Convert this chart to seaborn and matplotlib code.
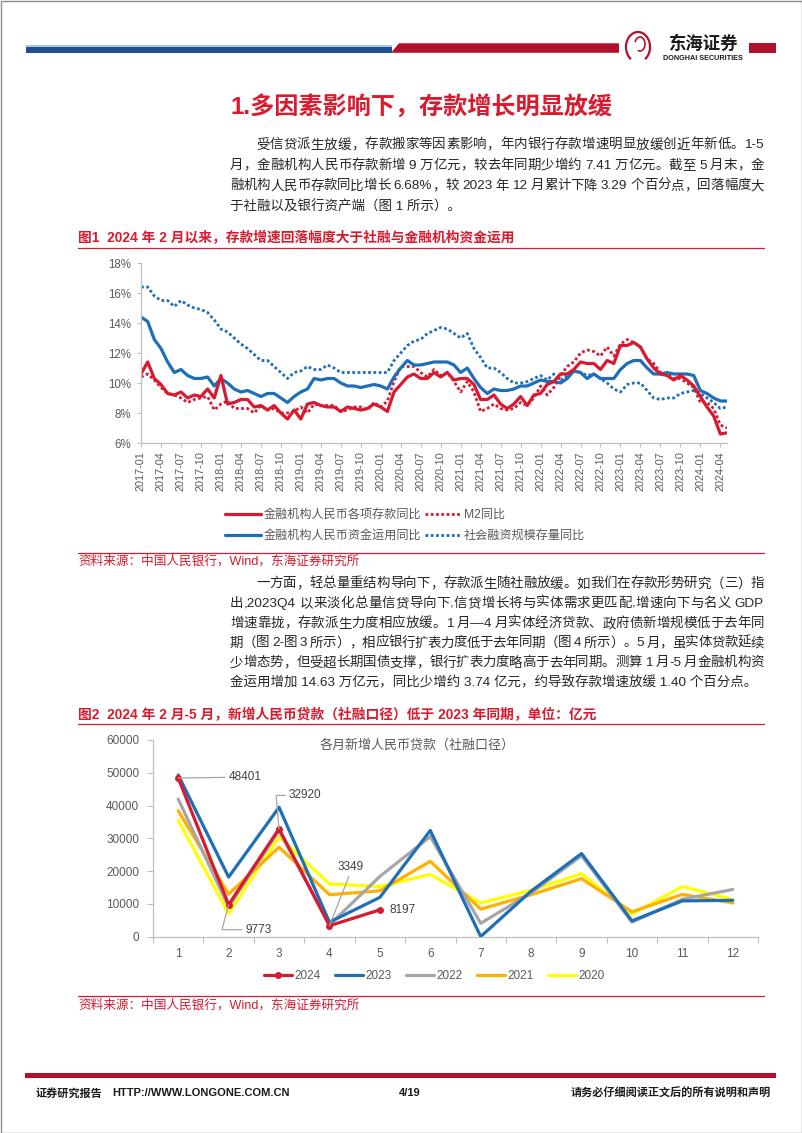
import re
import numpy as np
import pandas as pd
import matplotlib
matplotlib.use("Agg")
import matplotlib.pyplot as plt
import matplotlib.patches as mpatches
from matplotlib.font_manager import FontProperties
import seaborn as sns

sns.set_theme(style="white")
FAMILY = ["Liberation Sans", "Noto Sans CJK SC"]
plt.rcParams["font.family"] = FAMILY
plt.rcParams["axes.unicode_minus"] = False

# ---------------- Data: figure 1 (monthly yoy, %, 2017-01 .. 2024-05) ----------------
month_labels = [str(p) for p in pd.period_range("2017-01", "2024-05", freq="M")]

deposit_yoy = [
    10.6, 11.4, 10.3, 9.9, 9.3, 9.2, 9.4, 9.0, 9.2, 9.1, 9.6, 9.0,
    10.5, 8.6, 8.7, 8.9, 8.9, 8.4, 8.5, 8.2, 8.5, 8.0, 7.6, 8.2,
    7.6, 8.6, 8.7, 8.5, 8.4, 8.4, 8.1, 8.4, 8.3, 8.2, 8.3, 8.6,
    8.4, 8.1, 9.4, 9.9, 10.4, 10.6, 10.3, 10.3, 10.7, 10.4, 10.7, 10.2,
    10.3, 10.3, 9.9, 8.9, 8.9, 9.2, 8.6, 8.3, 8.6, 9.1, 8.5, 9.2,
    9.3, 9.9, 10.1, 10.6, 10.6, 10.9, 11.4, 11.3, 11.3, 10.9, 11.5, 11.3,
    12.5, 12.5, 12.7, 12.4, 11.6, 11.0, 10.6, 10.5, 10.2, 10.5, 10.2, 9.8,
    9.1, 8.4, 7.8, 6.6, 6.68]
m2_yoy = [
    10.4, 10.6, 10.2, 9.7, 9.3, 9.2, 9.0, 8.7, 8.9, 9.0, 9.1, 8.2,
    8.6, 8.8, 8.3, 8.3, 8.3, 8.0, 8.5, 8.2, 8.3, 8.0, 8.0, 8.1,
    8.4, 8.0, 8.6, 8.5, 8.5, 8.5, 8.1, 8.2, 8.4, 8.4, 8.2, 8.7,
    8.4, 8.8, 10.1, 11.1, 11.1, 11.1, 10.7, 10.4, 10.9, 10.5, 10.7, 10.1,
    9.4, 10.1, 9.4, 8.1, 8.3, 8.6, 8.3, 8.2, 8.3, 8.7, 8.5, 9.0,
    9.8, 9.2, 9.7, 10.5, 11.1, 11.4, 12.0, 12.2, 12.1, 11.8, 12.4, 11.8,
    12.6, 12.9, 12.7, 12.4, 11.6, 11.3, 10.7, 10.6, 10.3, 10.3, 10.0, 9.7,
    8.7, 8.7, 8.3, 7.2, 7.0]
funds_use_yoy = [
    14.4, 14.1, 12.9, 12.3, 11.4, 10.7, 10.9, 10.5, 10.3, 10.3, 10.4, 9.8,
    10.3, 10.0, 9.6, 9.4, 9.5, 9.3, 9.1, 9.3, 9.3, 9.0, 8.7, 9.1,
    9.4, 9.6, 10.3, 10.2, 10.3, 10.3, 10.0, 9.8, 9.8, 9.7, 9.8, 9.9,
    9.8, 9.6, 10.4, 11.0, 11.5, 11.2, 11.2, 11.3, 11.4, 11.4, 11.4, 11.2,
    10.7, 11.0, 10.3, 9.7, 9.3, 9.6, 9.5, 9.5, 9.6, 9.8, 9.8, 10.0,
    10.2, 10.1, 10.1, 10.0, 10.3, 10.8, 10.7, 10.3, 10.6, 10.3, 10.3, 10.3,
    10.9, 11.3, 11.5, 11.5, 11.0, 10.6, 10.6, 10.7, 10.6, 10.6, 10.6, 10.5,
    9.5, 9.3, 9.0, 8.8, 8.8]
tsf_yoy = [
    16.4, 16.4, 15.8, 15.5, 15.5, 15.1, 15.5, 15.2, 15.0, 14.9, 14.7, 14.2,
    13.6, 13.4, 13.0, 12.6, 12.3, 11.9, 11.5, 11.5, 11.1, 10.7, 10.3, 10.7,
    10.8, 11.1, 10.9, 10.9, 11.2, 11.0, 10.7, 10.7, 10.7, 10.7, 10.7, 10.7,
    10.7, 10.7, 11.5, 12.0, 12.5, 12.8, 12.9, 13.3, 13.5, 13.7, 13.6, 13.3,
    13.0, 13.3, 12.3, 11.7, 11.0, 11.0, 10.7, 10.3, 10.0, 10.0, 10.1, 10.3,
    10.5, 10.2, 10.6, 10.2, 10.5, 10.8, 10.7, 10.5, 10.6, 10.3, 10.0, 9.6,
    9.4, 9.9, 10.0, 10.0, 9.5, 9.0, 8.9, 9.0, 9.0, 9.3, 9.4, 9.5,
    9.3, 9.0, 8.7, 8.3, 8.4]
fig1_names = ["金融机构人民币各项存款同比", "M2同比",
              "金融机构人民币资金运用同比", "社会融资规模存量同比"]

# ---------------- Data: figure 2 (new RMB loans, 100m yuan) ----------------
months = list(range(1, 13))
loans_2024 = [48401, 9773, 32920, 3349, 8197]
loans_2023 = [49314, 18184, 39469, 4431, 11997, 32413, 36, 13909, 25366, 4837, 10926, 11098]
loans_2022 = [41988, 9084, 32291, 3616, 18393, 30540, 4088, 13344, 24700, 4431, 11444, 14401]
loans_2021 = [38400, 13000, 27300, 12800, 14000, 23000, 8400, 12800, 17700, 7600, 12900, 10300]
loans_2020 = [35500, 7100, 30400, 16100, 15300, 19000, 10300, 14200, 19200, 6900, 15300, 11300]
loan_years = ["2024", "2023", "2022", "2021", "2020"]

# ---------------- Colours ----------------
RED = "#D71A32"
BLUE = "#1E6EB8"
GRAY_TXT = "#595959"
AXIS = "#BFBFBF"
TITLE_RED = "#DA1A2E"
BAR_RED = "#B3102B"
BAR_BLUE = "#1E4F91"
BODY = "#262626"

W, H = 802, 1133
fig = plt.figure(figsize=(W / 100, H / 100), dpi=100)
fig.patch.set_facecolor("white")

# background axes in pixel coordinates (y downwards)
bg = fig.add_axes([0, 0, 1, 1], zorder=0)
bg.set_xlim(0, W)
bg.set_ylim(H, 0)
bg.axis("off")


def fp(size, weight="normal"):
    return FontProperties(family=FAMILY, size=size, weight=weight)


def put_line(s, x0, y, size, color=BODY, x1=None, weight="normal"):
    prop = fp(size, weight)
    if x1 is None:
        bg.text(x0, y, s, fontproperties=prop, color=color, ha="left", va="center")
        return
    r = fig.canvas.get_renderer()
    toks = re.findall(r"[A-Za-z0-9.%\-:/,]+| +|.", s)
    widths = []
    for t in toks:
        if t.strip() == "":
            widths.append(len(t) * 0.26 * size * 100 / 72)
        else:
            widths.append(r.get_text_width_height_descent(t, prop, ismath=False)[0])
    gap = (x1 - x0 - sum(widths)) / max(len(toks) - 1, 1)
    x = x0
    for t, w in zip(toks, widths):
        if t.strip():
            bg.text(x, y, t, fontproperties=prop, color=color, ha="left", va="center")
        x += w + gap


# ---------------- Page frame, header, footer ----------------
bg.add_patch(mpatches.Rectangle((0.5, 0.5), W - 1, H - 1, fill=False, ec="#8C8C8C", lw=1))
bg.add_patch(mpatches.Rectangle((25.5, 45.3), 366, 1.5, color="#A9C8EA", lw=0))
bg.add_patch(mpatches.Rectangle((25.5, 46.8), 366, 6, color=BAR_BLUE, lw=0))
bg.add_patch(mpatches.Polygon([(391, 52.8), (399, 43.3), (619, 43.3), (619, 52.8)],
                              closed=True, color=BAR_RED, lw=0))
bg.add_patch(mpatches.Rectangle((749, 43.3), 27, 9.5, color=BAR_RED, lw=0))
bg.add_patch(mpatches.Arc((638, 47), 24, 30, theta1=120, theta2=420, color=BAR_RED, lw=1.6))
bg.add_patch(mpatches.Arc((640, 44), 10, 14, theta1=200, theta2=470, color=BAR_RED, lw=1.2))
bg.text(704, 43.5, "东海证券", fontproperties=fp(12.5, "bold"), color="#1A1A1A",
        ha="center", va="center")
bg.text(703, 58, "DONGHAI SECURITIES", fontproperties=fp(5.2, "bold"), color="#1A1A1A",
        ha="center", va="center")

bg.add_patch(mpatches.Rectangle((25, 1073), 751, 4.5, color=BAR_RED, lw=0))
put_line("证券研究报告", 36, 1093, 8, "#1A1A1A", weight="bold")
put_line("HTTP://WWW.LONGONE.COM.CN", 112, 1093, 8, "#1A1A1A", weight="bold")
bg.text(410, 1093, "4/19", fontproperties=fp(8, "bold"), color="#1A1A1A", ha="center", va="center")
bg.text(771, 1093, "请务必仔细阅读正文后的所有说明和声明", fontproperties=fp(8, "bold"),
        color="#1A1A1A", ha="right", va="center")

# ---------------- Title & paragraphs ----------------
bg.text(421, 107, "1.多因素影响下，存款增长明显放缓", fontproperties=fp(17.4, "bold"),
        color=TITLE_RED, ha="center", va="center")

BS = 9.7
para1 = [
    "受信贷派生放缓，存款搬家等因素影响，年内银行存款增速明显放缓创近年新低。1-5",
    "月，金融机构人民币存款新增 9 万亿元，较去年同期少增约 7.41 万亿元。截至 5 月末，金",
    "融机构人民币存款同比增长 6.68%，较 2023 年 12 月累计下降 3.29 个百分点，回落幅度大",
    "于社融以及银行资产端（图 1 所示）。",
]
ys1 = [145, 165.7, 186.3, 207]
for k, (s, y) in enumerate(zip(para1, ys1)):
    x0 = 256 if k == 0 else 230
    put_line(s, x0, y, BS, x1=(764 if k < 3 else None))

para2 = [
    "一方面，轻总量重结构导向下，存款派生随社融放缓。如我们在存款形势研究（三）指",
    "出,2023Q4 以来淡化总量信贷导向下,信贷增长将与实体需求更匹配,增速向下与名义 GDP",
    "增速靠拢，存款派生力度相应放缓。1 月—4 月实体经济贷款、政府债新增规模低于去年同",
    "期（图 2-图 3 所示），相应银行扩表力度低于去年同期（图 4 所示）。5 月，虽实体贷款延续",
    "少增态势，但受超长期国债支撑，银行扩表力度略高于去年同期。测算 1 月-5 月金融机构资",
    "金运用增加 14.63 万亿元，同比少增约 3.74 亿元，约导致存款增速放缓 1.40 个百分点。",
]
ys2 = [584, 603.8, 623.6, 643.4, 663.2, 683]
for k, (s, y) in enumerate(zip(para2, ys2)):
    x0 = 256 if k == 0 else 230
    put_line(s, x0, y, BS, x1=(764 if k < 5 else None))

# captions, rules, sources
put_line("图1  2024 年 2 月以来，存款增速回落幅度大于社融与金融机构资金运用", 78, 238, 9.9,
         TITLE_RED, weight="bold")
put_line("图2  2024 年 2 月-5 月，新增人民币贷款（社融口径）低于 2023 年同期，单位：亿元", 78, 715,
         9.9, TITLE_RED, weight="bold")
for yy in (247.5, 552.7, 724, 996):
    bg.plot([78, 764], [yy, yy], color=TITLE_RED, lw=0.9)
for yy in (561.7, 1005):
    put_line("资料来源：中国人民银行，Wind，东海证券研究所", 78, yy, 9.1, TITLE_RED)

# ---------------- Figure 1 chart ----------------
ax1 = fig.add_axes([141 / W, 1 - 443 / H, 586 / W, 180 / H], zorder=2)
ax1.patch.set_alpha(0)
idx = np.arange(len(month_labels))
dot = (0, (1, 0.9))
sns.lineplot(x=idx, y=tsf_yoy, ax=ax1, color=BLUE, lw=2.0, linestyle=dot, label=fig1_names[3])
sns.lineplot(x=idx, y=m2_yoy, ax=ax1, color=RED, lw=2.0, linestyle=dot, label=fig1_names[1])
sns.lineplot(x=idx, y=funds_use_yoy, ax=ax1, color=BLUE, lw=2.3, label=fig1_names[2])
sns.lineplot(x=idx, y=deposit_yoy, ax=ax1, color=RED, lw=2.3, label=fig1_names[0])

ax1.set_xlim(0, len(month_labels) - 1)
ax1.set_ylim(6, 18)
ax1.set_yticks(range(6, 19, 2))
ax1.set_yticklabels([f"{v}%" for v in range(6, 19, 2)])
ax1.set_xticks(idx[::3])
ax1.set_xticklabels(month_labels[::3], rotation=90)
for sp in ("top", "right"):
    ax1.spines[sp].set_visible(False)
for sp in ("left", "bottom"):
    ax1.spines[sp].set_color(AXIS)
    ax1.spines[sp].set_linewidth(0.9)
ax1.tick_params(axis="both", colors=AXIS, labelcolor=GRAY_TXT, length=3, width=0.8,
                direction="out")
ax1.tick_params(axis="y", labelsize=8.3, pad=4, left=True)
ax1.tick_params(axis="x", labelsize=7.8, pad=3, bottom=True)
ax1.set_xlabel("")
ax1.set_ylabel("")
ax1.grid(False)

h, l = ax1.get_legend_handles_labels()
hd = dict(zip(l, h))
order = [fig1_names[0], fig1_names[2], fig1_names[1], fig1_names[3]]
ax1.legend([hd[n] for n in order], order, loc="center", ncol=2,
           bbox_to_anchor=(405 / W, 1 - 525.5 / H), bbox_transform=fig.transFigure,
           frameon=False, prop=fp(8.7), labelcolor=GRAY_TXT, handlelength=3.0,
           handletextpad=0.2, columnspacing=0.3, labelspacing=0.75, borderpad=0)

# ---------------- Figure 2 chart ----------------
ax2 = fig.add_axes([153 / W, 1 - 936.7 / H, 605 / W, 196.7 / H], zorder=2)
ax2.patch.set_alpha(0)
series2 = {
    "2020": (loans_2020, "#FFFF00"),
    "2021": (loans_2021, "#FFB000"),
    "2022": (loans_2022, "#A6A6A6"),
    "2023": (loans_2023, BLUE),
}
for yr, (vals, col) in series2.items():
    sns.lineplot(x=months[:len(vals)], y=vals, ax=ax2, color=col, lw=2.3, label=yr)
sns.lineplot(x=months[:len(loans_2024)], y=loans_2024, ax=ax2, color=RED, lw=2.3,
             marker="o", markersize=5, markeredgewidth=0, label="2024")

ax2.set_xlim(0.5, 12.5)
ax2.set_ylim(0, 60000)
ax2.set_yticks(range(0, 60001, 10000))
ax2.set_yticklabels([str(v) for v in range(0, 60001, 10000)])
ax2.set_xticks(months)
ax2.set_xticks(np.arange(0.5, 12.6, 1), minor=True)
for sp in ("top", "right"):
    ax2.spines[sp].set_visible(False)
for sp in ("left", "bottom"):
    ax2.spines[sp].set_color(AXIS)
    ax2.spines[sp].set_linewidth(0.9)
ax2.tick_params(axis="both", which="both", colors=AXIS, labelcolor=GRAY_TXT, width=0.8)
ax2.tick_params(axis="y", labelsize=8.5, length=4, pad=6, left=True)
ax2.tick_params(axis="x", which="major", labelsize=8.5, length=0, pad=8)
ax2.tick_params(axis="x", which="minor", length=4, bottom=True)
ax2.set_xlabel("")
ax2.set_ylabel("")
ax2.grid(False)

bg.text(417, 745, "各月新增人民币贷款（社融口径）", fontproperties=fp(9.4), color=GRAY_TXT,
        ha="center", va="center")

lead = dict(arrowstyle="-", color="#A6A6A6", lw=0.9, shrinkA=0, shrinkB=0)
ann = dict(textcoords="offset points", fontproperties=fp(8.5), color="#404040", va="center")
ax2.annotate(str(loans_2024[0]), xy=(1, loans_2024[0]), xytext=(36, 0.5),
             arrowprops=dict(lead, relpos=(0, 0.5)), ha="left", **ann)
ax2.annotate(str(loans_2024[2]), xy=(3, loans_2024[2]), xytext=(7, 24),
             arrowprops=dict(lead, relpos=(0, 0.5),
                             connectionstyle="angle,angleA=180,angleB=95,rad=0"),
             ha="left", **ann)
ax2.annotate(str(loans_2024[1]), xy=(2, loans_2024[1]), xytext=(12, -18),
             arrowprops=dict(lead, relpos=(0, 0.5),
                             connectionstyle="angle,angleA=180,angleB=75,rad=0"),
             ha="left", **ann)
ax2.annotate(str(loans_2024[3]), xy=(4, loans_2024[3]), xytext=(5.5, 42),
             arrowprops=dict(lead, relpos=(0.5, 0)), ha="left", **ann)
ax2.annotate(str(loans_2024[4]), xy=(5, loans_2024[4]), xytext=(7, 0), ha="left", **ann)

h2, l2 = ax2.get_legend_handles_labels()
hd2 = dict(zip(l2, h2))
ax2.legend([hd2[y] for y in loan_years], loan_years, loc="center", ncol=5,
           bbox_to_anchor=(434.5 / W, 1 - 976 / H), bbox_transform=fig.transFigure,
           frameon=False, prop=fp(8.5), labelcolor=GRAY_TXT, handlelength=2.4,
           handletextpad=0.2, columnspacing=1.2, borderpad=0, numpoints=1)

fig.savefig("out.png", dpi=100, facecolor="white")
